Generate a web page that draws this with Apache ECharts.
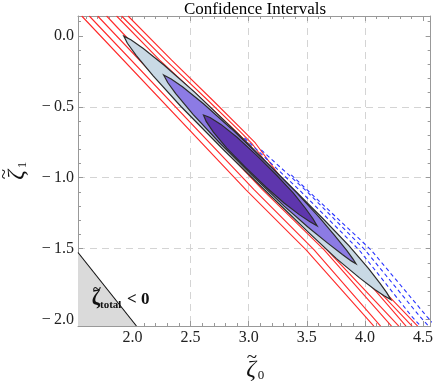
<!DOCTYPE html>
<html>
<head>
<meta charset="UTF-8">
<title>Confidence Intervals</title>
<script src="https://cdn.jsdelivr.net/npm/echarts@6/dist/echarts.min.js"></script>
<style>
html, body { margin: 0; padding: 0; background: #fff; }
#chart { width: 436px; height: 382px; }
</style>
</head>
<body>
<div id="chart"></div>
<script>
// plot range of zeta0 (x) and zeta1 (y)
var xRange = [1.531, 4.566];
var yRange = [-2.045, 0.14];
// tick values
var xMajor = [2.0, 2.5, 3.0, 3.5, 4.0, 4.5];
var xMinor = [1.6, 1.7, 1.8, 1.9, 2.1, 2.2, 2.3, 2.4, 2.6, 2.7, 2.8, 2.9, 3.1, 3.2, 3.3, 3.4, 3.6, 3.7, 3.8, 3.9, 4.1, 4.2, 4.3, 4.4];
var yMajor = [-2.0, -1.5, -1.0, -0.5, 0.0];
var yMinor = [-1.9, -1.8, -1.7, -1.6, -1.4, -1.3, -1.2, -1.1, -0.9, -0.8, -0.7, -0.6, -0.4, -0.3, -0.2, -0.1, 0.1];

// confidence regions (outline points)
var outerRegion = [[1.925, -0.002], [1.986, -0.027], [2.093, -0.089], [2.270, -0.205], [2.537, -0.398], [2.909, -0.691], [3.321, -1.027], [3.640, -1.289], [3.864, -1.480], [4.032, -1.641], [4.132, -1.746], [4.189, -1.812], [4.223, -1.859], [4.165, -1.832], [4.084, -1.787], [3.954, -1.706], [3.755, -1.570], [3.519, -1.389], [3.195, -1.132], [2.779, -0.799], [2.417, -0.498], [2.178, -0.282], [2.033, -0.139], [1.956, -0.052]];
var middleRegion = [[2.268, -0.276], [2.333, -0.304], [2.430, -0.359], [2.611, -0.478], [2.853, -0.656], [3.153, -0.893], [3.416, -1.108], [3.604, -1.276], [3.739, -1.407], [3.842, -1.511], [3.898, -1.573], [3.923, -1.606], [3.882, -1.586], [3.806, -1.541], [3.677, -1.459], [3.514, -1.351], [3.305, -1.200], [3.038, -0.990], [2.743, -0.748], [2.521, -0.554], [2.372, -0.407], [2.303, -0.329]];
var innerRegion = [[2.611, -0.558], [2.667, -0.575], [2.761, -0.624], [2.900, -0.715], [3.071, -0.844], [3.245, -0.986], [3.385, -1.109], [3.488, -1.215], [3.553, -1.289], [3.589, -1.339], [3.527, -1.311], [3.435, -1.260], [3.304, -1.178], [3.150, -1.067], [2.973, -0.927], [2.811, -0.791], [2.696, -0.679], [2.634, -0.603]];

// red contour lines
var red1 = [[1.563, 0.14], [2.977, -1.085], [3.494, -1.508], [4.077, -2.046]];
var red2 = [[1.628, 0.14], [3.048, -1.085], [3.563, -1.508], [4.135, -2.046]];
var red3 = [[1.700, 0.14], [3.120, -1.085], [3.649, -1.508], [4.229, -2.046]];
var red4 = [[1.777, 0.14], [4.292, -2.046]];
var red5 = [[1.863, 0.14], [2.234, -0.171], [2.603, -0.452], [2.877, -0.663], [3.006, -0.769], [4.354, -2.046]];
var red6 = [[1.906, 0.14], [2.285, -0.171], [2.646, -0.452], [2.920, -0.670], [3.031, -0.762], [3.434, -1.205], [4.406, -2.046]];
var red7 = [[1.962, 0.14], [2.337, -0.171], [2.688, -0.452], [2.963, -0.677], [3.057, -0.755], [3.451, -1.191], [4.454, -2.046]];

// blue dashed contour lines
var blue1 = [[2.963, -0.720], [3.434, -1.085], [3.949, -1.508], [4.403, -1.977], [4.480, -2.046]];
var blue2 = [[3.108, -0.804], [3.486, -1.085], [4.000, -1.508], [4.472, -1.977], [4.549, -2.046]];
var blue3 = [[3.366, -0.980], [4.052, -1.508], [4.532, -1.977], [4.609, -2.046]];

// excluded region zeta_total < 0
var totalNeg = [[1.531, -1.527], [2.034, -2.045], [1.531, -2.045]];

var serif = '"Liberation Serif", "DejaVu Serif", serif';
var frameColor = '#999';

function fmt(v) {
	return v < 0 ? '\u2212\u2009' + (-v).toFixed(1) : v.toFixed(1);
}

function polygonSeries(pts, fill, stroke, z) {
	return {
		type: 'custom',
		coordinateSystem: 'cartesian2d',
		clip: true,
		silent: true,
		z: z,
		data: [pts[0]],
		renderItem: function (params, api) {
			return {
				type: 'polygon',
				shape: { points: pts.map(function (p) { return api.coord(p); }) },
				style: { fill: fill, stroke: stroke, lineWidth: stroke ? 1.2 : 0 }
			};
		}
	};
}

function lineSeries(pts, color, dash, z) {
	return {
		type: 'line',
		data: pts,
		showSymbol: false,
		silent: true,
		clip: true,
		z: z,
		lineStyle: { color: color, width: 1.1, type: dash || 'solid' }
	};
}

function axisPair(pos, major, minor, range, labels) {
	var main = {
		type: 'value',
		position: pos,
		min: range[0],
		max: range[1],
		axisLine: { show: true, onZero: false, lineStyle: { color: frameColor, width: 1 } },
		axisTick: { show: true, inside: true, length: 5, customValues: major, lineStyle: { color: frameColor } },
		axisLabel: {
			show: labels,
			customValues: major,
			formatter: fmt,
			fontFamily: serif,
			fontSize: 16,
			color: '#222',
			margin: 4
		},
		splitLine: {
			show: labels,
			showMinLine: false,
			showMaxLine: false,
			lineStyle: { color: '#d4d4d4', type: [7, 5], width: 1 }
		}
	};
	var sub = {
		type: 'value',
		position: pos,
		min: range[0],
		max: range[1],
		axisLine: { show: false, onZero: false },
		axisTick: { show: true, inside: true, length: 3, customValues: minor, lineStyle: { color: frameColor } },
		axisLabel: { show: false },
		splitLine: { show: false }
	};
	return [main, sub];
}

// zeta with tilde and a subscript, built from separate pieces
function zetaName(x, y, rot, sub) {
	return {
		type: 'group', x: x, y: y, rotation: rot, z: 100,
		children: [
			{ type: 'text', z: 100, x: 0, y: 0, style: { text: '\u03B6', fontFamily: serif, fontStyle: 'italic', fontSize: 24, fill: '#111', align: 'center', verticalAlign: 'middle' } },
			{ type: 'text', z: 100, x: 1, y: -12, style: { text: '~', fontFamily: serif, fontSize: 19, fill: '#111', align: 'center', verticalAlign: 'middle' } },
			{ type: 'text', z: 100, x: 10, y: 6, style: { text: sub, fontFamily: serif, fontSize: 13, fill: '#111', align: 'center', verticalAlign: 'middle' } }
		]
	};
}

var chart = echarts.init(document.getElementById('chart'));

var xAxes = axisPair('bottom', xMajor, xMinor, xRange, true).concat(axisPair('top', xMajor, xMinor, xRange, false));
var yAxes = axisPair('left', yMajor, yMinor, yRange, true).concat(axisPair('right', yMajor, yMinor, yRange, false));

var series = [
	polygonSeries(totalNeg, '#dadada', null, 1),
	lineSeries(totalNeg.slice(0, 2), '#111', null, 2),
	lineSeries(red1, '#ff2a2a', null, 3),
	lineSeries(red2, '#ff2a2a', null, 3),
	lineSeries(red3, '#ff2a2a', null, 3),
	lineSeries(red4, '#ff2a2a', null, 3),
	lineSeries(red5, '#ff2a2a', null, 3),
	lineSeries(red6, '#ff2a2a', null, 3),
	lineSeries(red7, '#ff2a2a', null, 3),
	polygonSeries(outerRegion, '#c9d9e5', '#2b2b2b', 4),
	polygonSeries(middleRegion, '#8c7be4', '#2b2b2b', 5),
	polygonSeries(innerRegion, '#5e36ad', '#2b2b2b', 6),
	lineSeries(blue1, '#2a35ff', [4, 3], 7),
	lineSeries(blue2, '#2a35ff', [4, 3], 7),
	lineSeries(blue3, '#2a35ff', [4, 3], 7)
];

var option = {
	animation: false,
	backgroundColor: '#fff',
	grid: { left: 78, top: 16, width: 354, height: 310, containLabel: false },
	xAxis: xAxes,
	yAxis: yAxes,
	series: series,
	graphic: [
		{
			type: 'text', x: 255, y: 1, z: 100,
			style: { text: 'Confidence Intervals', fontFamily: serif, fontSize: 17, fill: '#000', align: 'center', verticalAlign: 'top' }
		},
		zetaName(251, 370, 0, '0'),
		zetaName(17, 175, Math.PI / 2, '1'),
		{
			type: 'group', x: 96, y: 300, z: 100,
			children: [
				{ type: 'text', z: 100, x: 0, y: 0, style: { text: '\u03B6', fontFamily: serif, fontWeight: 'bold', fontSize: 20, fill: '#111', align: 'center', verticalAlign: 'middle' } },
				{ type: 'text', z: 100, x: 1, y: -10, style: { text: '~', fontFamily: serif, fontWeight: 'bold', fontSize: 15, fill: '#111', align: 'center', verticalAlign: 'middle' } },
				{ type: 'text', z: 100, x: 4, y: 5, style: { text: 'total', fontFamily: serif, fontWeight: 'bold', fontSize: 11, fill: '#111', align: 'left', verticalAlign: 'middle' } },
				{ type: 'text', z: 100, x: 31, y: 0, style: { text: '< 0', fontFamily: serif, fontWeight: 'bold', fontSize: 17, fill: '#111', align: 'left', verticalAlign: 'middle' } }
			]
		}
	]
};

chart.setOption(option);
</script>
</body>
</html>
